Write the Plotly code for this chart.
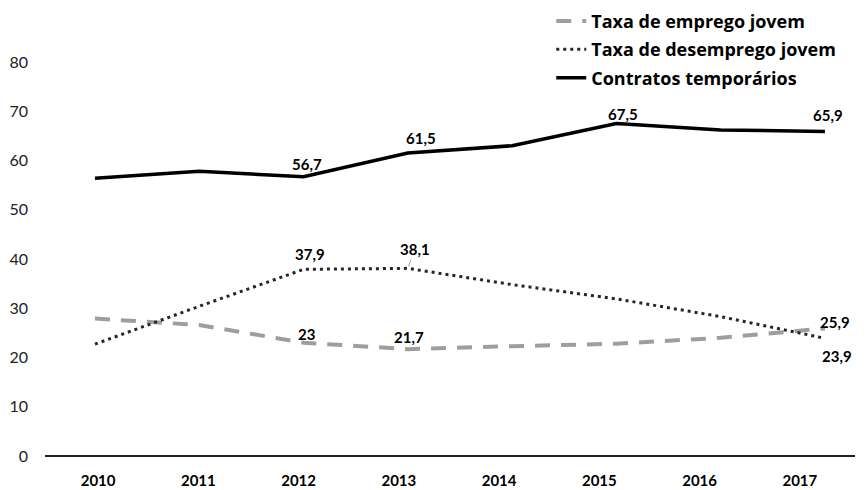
import plotly.graph_objects as go

years = ["2010", "2011", "2012", "2013", "2014", "2015", "2016", "2017"]
emprego = [27.9, 26.6, 23.0, 21.7, 22.3, 22.8, 24.0, 25.9]
desemprego = [22.7, 30.4, 37.9, 38.1, 34.8, 31.9, 28.3, 23.9]
contratos = [56.4, 57.8, 56.7, 61.5, 63.0, 67.5, 66.2, 65.9]
y_ticks = [0, 10, 20, 30, 40, 50, 60, 70, 80]

names = ["Taxa de emprego jovem", "Taxa de desemprego jovem", "Contratos temporários"]

# labelled points: (series index, year index)
labelled = [(2, 2), (2, 3), (2, 5), (2, 7), (1, 2), (1, 3), (0, 2), (0, 3), (0, 7), (1, 7)]
# pixel offsets for each label (style)
label_shift = [(3, 13), (13, 15), (7, 10), (3, 16), (6, 15), (7, 19), (3, 9), (1, 12), (10, 6), (12, -18)]

series = [emprego, desemprego, contratos]
styles = [
    dict(color="#9e9e9e", width=4, dash="15px,11px"),
    dict(color="#262626", width=3, dash="3px,4px"),
    dict(color="#000000", width=3.5, dash="solid"),
]

FONT = "Lato, Open Sans, sans-serif"

fig = go.Figure()
# invisible trace to carry the visible category axis (tick labels)
fig.add_trace(go.Scatter(x=years, y=[None] * len(years), xaxis="x", yaxis="y",
                         showlegend=False, hoverinfo="skip"))
for i, (nm, vals, st) in enumerate(zip(names, series, styles)):
    fig.add_trace(go.Scatter(
        x=years, y=vals, name=nm, mode="lines", line=st,
        xaxis="x2", yaxis="y", legendgroup=str(i), hoverinfo="skip"))

annotations = []
for (si, yi), (dx, dy) in zip(labelled, label_shift):
    v = series[si][yi]
    txt = (f"{v:.1f}".rstrip("0").rstrip(".")).replace(".", ",")
    a = dict(x=yi, y=v, xref="x2", yref="y", text=txt,
             font=dict(family=FONT, size=15, color="#000000", weight="bold"),
             xshift=dx, yshift=dy, showarrow=False)
    if (si, yi) == (1, 3):
        a.update(showarrow=True, arrowhead=0, arrowwidth=0.8, arrowcolor="#888888",
                 ax=dx, ay=-dy, standoff=2, xshift=0, yshift=0)
    annotations.append(a)

fig.update_layout(
    width=860, height=482,
    margin=dict(l=37, r=13, t=54, b=34, autoexpand=False),
    paper_bgcolor="white", plot_bgcolor="white",
    font=dict(family=FONT, color="#000000"),
    showlegend=True,
    legend=dict(
        x=0.625, y=1.1505, xanchor="left", yanchor="top",
        traceorder="grouped", tracegroupgap=2,
        font=dict(family="Open Sans, sans-serif", size=18, color="#000000", weight="bold"),
        bgcolor="rgba(0,0,0,0)", itemwidth=30),
    xaxis=dict(
        type="category", categoryorder="array", categoryarray=years,
        range=[-0.53, 7.55], showgrid=False, zeroline=False,
        showline=False, ticks="", automargin=False,
        tickfont=dict(family=FONT, size=15, color="#000000", weight="bold"),
        ticklabelstandoff=14),
    xaxis2=dict(
        type="category", categoryorder="array", categoryarray=years,
        overlaying="x", range=[-0.479, 7.288], showgrid=False, zeroline=False,
        showline=False, showticklabels=False, ticks=""),
    yaxis=dict(
        range=[0, 80], tickvals=y_ticks, showgrid=False,
        zeroline=True, zerolinecolor="#222222", zerolinewidth=1.5,
        showline=False, ticks="", automargin=False,
        tickfont=dict(family=FONT, size=16, color="#222222"),
        ticklabelstandoff=16),
    annotations=annotations,
)

fig.write_html("out.html")
